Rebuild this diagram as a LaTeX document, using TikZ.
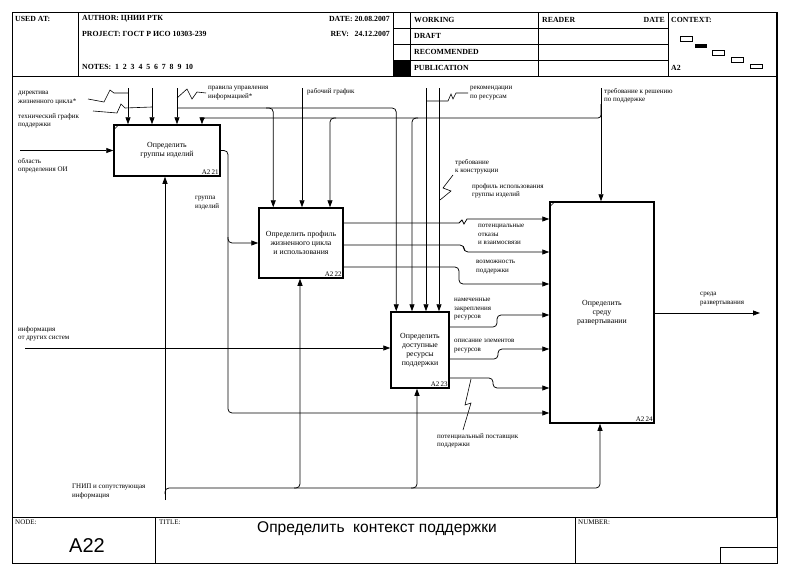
\documentclass[tikz,border=0pt]{standalone}
\usepackage{fontspec}
\setmainfont{Liberation Serif}
\setsansfont{Liberation Sans}
\usetikzlibrary{arrows.meta}

\begin{document}
\begin{tikzpicture}[x=1pt,y=-1pt,>={Triangle[length=7pt,width=5pt]},
    box/.style={draw,line width=1.5pt,inner sep=1pt,align=center,font=\fontsize{7.8}{9}\selectfont},
    num/.style={font=\fontsize{7}{7}\selectfont,inner sep=2pt,anchor=south east},
    lbl/.style={font=\fontsize{7}{8.6}\selectfont,inner sep=0pt,align=left,anchor=north west,execute at begin node=\strut},
    hdr/.style={font=\bfseries\fontsize{7.8}{8}\selectfont,inner sep=0pt,anchor=west},
    arr/.style={->,line width=0.75pt,rounded corners=4pt},
    sq/.style={line width=0.6pt}]
    \useasboundingbox (0,0) rectangle (786,573);
    % рамка бланка
    \draw [line width=1pt] (12,12) rectangle (777,563);
    \draw [line width=1.8pt] (777,12) -- (777,517);
    \draw [line width=1pt] (12,76) -- (777,76);
    \draw [line width=1pt] (12,517) -- (777,517);
    \draw [line width=0.8pt] (78,12) -- (78,76);
    \draw [line width=0.8pt] (393,12) -- (393,76);
    \draw [line width=0.8pt] (410,12) -- (410,76);
    \draw [line width=0.8pt] (538,12) -- (538,76);
    \draw [line width=0.8pt] (668,12) -- (668,76);
    \draw [line width=0.8pt] (393,28) -- (668,28);
    \draw [line width=0.8pt] (393,44) -- (668,44);
    \draw [line width=0.8pt] (393,60) -- (668,60);
    \fill (393,60) rectangle (410,76);
    \draw [line width=0.8pt] (155,517) -- (155,563);
    \draw [line width=0.8pt] (575,517) -- (575,563);
    \draw [line width=0.8pt] (720,563) |- (777,547);
    % шапка
    \node [hdr] (usedat) at (15,19) {USED AT:};
    \node [hdr] (author) at (82,19) {AUTHOR:\ ЦНИИ РТК};
    \node [hdr] (project) at (82,34) {PROJECT:\ ГОСТ Р ИСО 10303-239};
    \node [hdr] (notes) at (82,67) {NOTES:\ \ 1\ \ 2\ \ 3\ \ 4\ \ 5\ \ 6\ \ 7\ \ 8\ \ 9\ \ 10};
    \node [hdr,anchor=east] (date) at (390,19) {DATE:\ 20.08.2007};
    \node [hdr,anchor=east] (rev) at (390,34) {REV:\ \ \ 24.12.2007};
    \node [hdr] (working) at (414,20) {WORKING};
    \node [hdr] (draft) at (414,36) {DRAFT};
    \node [hdr] (recom) at (414,52) {RECOMMENDED};
    \node [hdr] (publ) at (414,68) {PUBLICATION};
    \node [hdr] (reader) at (542,20) {READER};
    \node [hdr,anchor=east] (rdate) at (665,20) {DATE};
    \node [hdr] (context) at (671,20) {CONTEXT:};
    \node [hdr] (ctxnode) at (671,68) {A2};
    \draw [line width=0.8pt] (680,36) rectangle (692,41);
    \fill (695,43.5) rectangle (707,47.5);
    \draw [line width=0.8pt] (712,50) rectangle (724,55);
    \draw [line width=0.8pt] (731,57) rectangle (743,62);
    \draw [line width=0.8pt] (750,64) rectangle (762,68);
    % подвал
    \node [hdr,font=\fontsize{7}{8}\selectfont] (nodelbl) at (15,522) {NODE:};
    \node [hdr,font=\fontsize{7}{8}\selectfont] (titlelbl) at (159,522) {TITLE:};
    \node [hdr,font=\fontsize{7}{8}\selectfont] (numlbl) at (578,522) {NUMBER:};
    \node [font=\sffamily\fontsize{20}{22}\selectfont] (nodename) at (87,546) {A22};
    \node [font=\sffamily\fontsize{15.5}{18}\selectfont] (title) at (377,529) {Определить\ \ контекст поддержки};
    % блоки
    \node [box,minimum width=106pt,minimum height=51pt] (A221) at (167,150.5) {Определить\\группы изделий};
    \node [box,minimum width=84pt,minimum height=70pt] (A222) at (301,243) {Определить профиль\\жизненного цикла\\и использования};
    \node [box,minimum width=58pt,minimum height=76pt] (A223) at (420,350) {Определить\\доступные\\ресурсы\\поддержки};
    \node [box,minimum width=104pt,minimum height=221pt] (A224) at (602,312.5) {Определить\\среду\\развертывании};
    \node [num] at (A221.south east) {A2\,21};
    \node [num] at (A222.south east) {A2\,22};
    \node [num] at (A223.south east) {A2\,23};
    \node [num] at (A224.south east) {A2\,24};
    \draw [line width=0.6pt] ([yshift=-6pt]A221.north west) -- ([xshift=6pt]A221.north west);
    \draw [line width=0.6pt] ([yshift=-6pt]A224.north west) -- ([xshift=6pt]A224.north west);
    % управление
    \coordinate (c1) at (128,88);
    \coordinate (c2) at (152,88);
    \coordinate (c3) at (177,88);
    \coordinate (c4) at (302,88);
    \coordinate (c5) at (426,88);
    \coordinate (c6) at (439,88);
    \coordinate (c7) at (601,88);
    \draw [arr] (c1) -- (c1 |- A221.north);
    \draw [arr] (c2) -- (c2 |- A221.north);
    \draw [arr] (c3) -- (c3 |- A221.north);
    \draw [arr] (c4) -- (c4 |- A222.north);
    \draw [arr] (c5) -- (c5 |- A223.north);
    \draw [arr] (c6) -- (c6 |- A223.north);
    \draw [arr] (c7) -- (c7 |- A224.north);
    \coordinate (j1) at (177,108);
    \draw [arr] (j1) -| ([xshift=6pt]A223.north west);
    \draw [arr] ([xshift=89pt]j1) -| ([xshift=15pt]A222.north west);
    \coordinate (j2) at (601,104);
    \coordinate (k1) at (202,118);
    \coordinate (k2) at (330,118);
    \coordinate (k3) at (412,118);
    \draw [arr,rounded corners=3pt] (j2) |- (k1) -- (k1 |- A221.north);
    \draw [arr] ([xshift=6pt]k2) -- (k2) -- (k2 |- A222.north);
    \draw [arr] ([xshift=6pt]k3) -- (k3) -- (k3 |- A223.north);
    % входы
    \coordinate (in1) at (20,150.5);
    \coordinate (in2) at (25,348);
    \draw [arr] (in1) -- (A221.west);
    \draw [arr] (in2) -- (in2 -| A223.west);
    % выходы
    \coordinate (o1) at (228,413);
    \coordinate (o2) at (228,243);
    \draw [arr] (A221.east) -| (o1) -- (o1 -| A224.west);
    \draw [arr] ([yshift=6pt]o2) |- (A222.west);
    \coordinate (q1) at (467,219);
    \coordinate (q2) at (464,252);
    \coordinate (q3) at (459,284);
    \coordinate (q4) at (497,315);
    \coordinate (q5) at (498,349);
    \coordinate (q6) at (493,388);
    \draw [arr,rounded corners=0pt] ([yshift=20pt]A222.east) -- (459,223) -- (462,220) -- (464,224) -- (q1) -- (q1 -| A224.west);
    \draw [arr] ([yshift=-2pt]A222.east) -| (q2) -- (q2 -| A224.west);
    \draw [arr] ([yshift=-24pt]A222.east) -| (q3) -- (q3 -| A224.west);
    \draw [arr] ([yshift=23pt]A223.east) -| (q4) -- (q4 -| A224.west);
    \draw [arr] ([yshift=-9pt]A223.east) -| (q5) -- (q5 -| A224.west);
    \draw [arr] ([yshift=-28pt]A223.east) -| (q6) -- (q6 -| A224.west);
    \coordinate (out) at (760,313);
    \draw [arr] (A224.east |- out) -- (out);
    % механизмы
    \coordinate (m0) at (165,500);
    \coordinate (m1) at (600,488);
    \coordinate (m2) at (300,488);
    \coordinate (m3) at (417,488);
    \draw [arr] (m0) -- (m0 |- A221.south);
    \draw [arr] ([yshift=6pt]m0) |- (m1) -- (m1 |- A224.south);
    \draw [arr] ([xshift=-6pt]m2) -- (m2) -- (m2 |- A222.south);
    \draw [arr] ([xshift=-6pt]m3) -- (m3) -- (m3 |- A223.south);
    % подписи стрелок
    \node [lbl] (l1) at (18,91) {директива\\жизненного цикла*};
    \node [lbl] (l2) at (18,113) {технический график\\поддержки};
    \node [lbl] (l3) at (18,158) {область\\определения ОИ};
    \node [lbl] (l4) at (18,326) {информация\\от других систем};
    \node [lbl] (l5) at (208,86) {правила управления\\информацией*};
    \node [lbl] (l6) at (307,87) {рабочий график};
    \node [lbl] (l7) at (470,86) {рекомендации\\по ресурсам};
    \node [lbl] (l8) at (604,88) {требование к решению\\по поддержке};
    \node [lbl] (l9) at (455,159) {требование\\к конструкции};
    \node [lbl] (l10) at (472,183) {профиль использования\\группы изделий};
    \node [lbl] (l11) at (195,196) {группа\\изделий};
    \node [lbl] (l12) at (478,224) {потенциальные\\отказы\\и взаимосвязи};
    \node [lbl] (l13) at (476,260) {возможность\\поддержки};
    \node [lbl] (l14) at (454,298) {намеченные\\закрепления\\ресурсов};
    \node [lbl] (l15) at (454,339) {описание элементов\\ресурсов};
    \node [lbl] (l16) at (437,433) {потенциальный поставщик\\поддержки};
    \node [lbl] (l17) at (700,292) {среда\\развертывания};
    \node [lbl] (l18) at (72,484) {ГНИП и сопутствующая\\информация};
    % тильды
    \draw [sq] (88,99) -- (104,102) -- (110,90) -- (114,93) -- (c1 |- 0,93);
    \draw [sq] (93,111) -- (117,113) -- (121,104) -- (125,108) -- (152,107);
    \draw [sq] (177,98) -- (187,89) -- (192,99) -- (197,92) -- (206,93);
    \draw [sq] (426,101) -- (448,101) -- (451,94) -- (453,99) -- (456,93) -- (468,93);
    \draw [sq] (453,175) -- (443,188) -- (451,191) -- (440,200);
    \draw [sq] (471,379) -- (465,405) -- (471,403) -- (463,430);
\end{tikzpicture}
\end{document}
